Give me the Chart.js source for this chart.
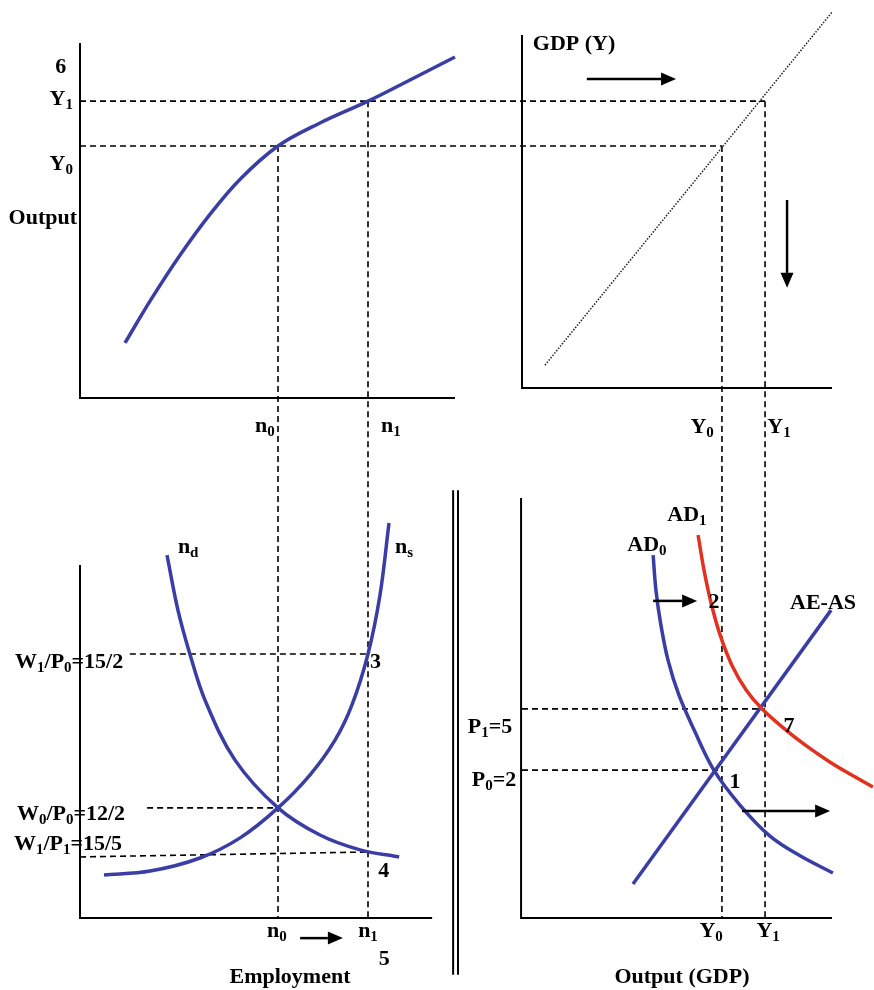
<!DOCTYPE html>
<html lang="en">
<head>
<meta charset="UTF-8">
<title>Labour market, production and AD-AS</title>
<script src="https://cdn.jsdelivr.net/npm/chart.js@4/dist/chart.umd.min.js"></script>
<style>
  body { margin: 0; background: #fff; }
  canvas { display: block; }
</style>
</head>
<body>
<canvas id="diagram" width="874" height="990"></canvas>
<script>
// ---- values (arbitrary diagram units) ----
// production function: employment n -> output Y
const prodN = [1.2, 1.87, 2.67, 3.47, 4.27, 5.28, 6.4, 7.68, 8.8, 10];
const prodY = [1.56, 2.75, 4.05, 5.21, 6.2, 7.14, 7.79, 8.41, 9.01, 9.66];

// 45 degree line (GDP = Y)
const diagX = [0.74, 10];
const diagY = [0.93, 10.93];

// labour demand / supply: employment vs real wage
const ndN = [2.32, 2.61, 2.93, 3.33, 4.13, 5.28, 6.4, 7.47, 8.51];
const ndW = [10.28, 8.73, 7.48, 6.18, 4.48, 3.12, 2.35, 1.93, 1.73];
const nsN = [0.64, 1.87, 3.2, 4.27, 5.28, 6.13, 6.8, 7.25, 7.68, 8.0, 8.24];
const nsW = [1.22, 1.33, 1.70, 2.27, 3.12, 4.05, 5.04, 6.03, 7.48, 9.15, 11.19];

// aggregate demand curves and AE-AS line: output vs price level
const ad0Y = [4.23, 4.32, 4.48, 4.71, 5.06, 5.55, 6.19, 7.03, 8.0, 8.97, 10.03];
const ad0P = [8.64, 7.81, 6.98, 6.14, 5.31, 4.48, 3.52, 2.69, 1.95, 1.48, 1.07];
const ad1Y = [5.68, 5.87, 6.10, 6.39, 6.77, 7.23, 7.74, 8.39, 9.13, 9.94, 10.65, 11.32];
const ad1P = [9.12, 8.29, 7.5, 6.74, 6.02, 5.43, 4.98, 4.55, 4.12, 3.71, 3.40, 3.12];
const asY = [3.58, 9.97];
const asP = [0.81, 7.33];

// equilibrium levels
const employment = [5.28, 7.68];   // n0, n1
const outputV = [7.14, 8.41];      // Y0, Y1 on the vertical GDP axis
const outputH = [6.45, 7.84];      // Y0, Y1 on the horizontal GDP axis
const realWage = [7.48, 3.12];     // W1/P0, W0/P0
const realWageLow = [1.73, 1.87];  // W1/P1 line, at n = 0 and at n1
const priceLevel = [3.52, 4.98];   // P0, P1

// tick labels ("_" marks a subscript)
const employmentTicks = ['n_0', 'n_1'];
const outputTicks = ['Y_0', 'Y_1'];
const wageTicks = ['W_1/P_0=15/2', 'W_0/P_0=12/2', 'W_1/P_1=15/5'];
const priceTicks = ['P_1=5', 'P_0=2'];

// ---- layout ----
const W = 874, H = 990;
// pixel of value 0 and pixels per unit for every scale
const axisLayout = {
    xL: [80, 37.5],   // employment (left panels)
    xR: [522, 31],    // output (right panels)
    yT: [398, 35.3],  // output (top panels)
    yBL: [918, 35.3], // real wage
    yBR: [918, 42]    // price level
};
const BLUE = '#3a3da3';
const RED = '#e3311f';
const FONT = '"Liberation Serif", "Times New Roman", serif';

// panel axes: x scale, y scale, x from, x to, y from, y to
const frames = [
    ['xL', 'yT', 0, 10, 0, 10.06],
    ['xR', 'yT', 0, 10, 0.28, 10.28],
    ['xL', 'yBL', 0, 9.39, 0, 10],
    ['xR', 'yBR', -0.03, 10, 0, 10]
];

// dashed guide lines, each end is [x scale, x, y scale, y]
const guides = [
    [['xL', 0, 'yT', outputV[1]], ['xR', outputH[1], 'yT', outputV[1]]],
    [['xL', 0, 'yT', outputV[0]], ['xR', outputH[0], 'yT', outputV[0]]],
    [['xL', employment[0], 'yT', outputV[0]], ['xL', employment[0], 'yBL', 0]],
    [['xL', employment[1], 'yT', outputV[1]], ['xL', employment[1], 'yBL', 0]],
    [['xR', outputH[0], 'yT', outputV[0]], ['xR', outputH[0], 'yBR', 0]],
    [['xR', outputH[1], 'yT', outputV[1]], ['xR', outputH[1], 'yBR', 0]],
    [['xL', 1.33, 'yBL', realWage[0]], ['xL', employment[1], 'yBL', realWage[0]]],
    [['xL', 1.79, 'yBL', realWage[1]], ['xL', employment[0], 'yBL', realWage[1]]],
    [['xL', 0, 'yBL', realWageLow[0]], ['xL', employment[1], 'yBL', realWageLow[1]]],
    [['xR', 0, 'yBR', priceLevel[1]], ['xR', outputH[1], 'yBR', priceLevel[1]]],
    [['xR', 0, 'yBR', priceLevel[0]], ['xR', outputH[0], 'yBR', priceLevel[0]]]
];

// arrows: x scale, y scale, x1, y1, x2, y2
const arrows = [
    ['xR', 'yT', 2.09, 9.04, 4.97, 9.04],
    ['xR', 'yT', 8.55, 5.61, 8.55, 3.12],
    ['xL', 'yBL', 5.87, -0.57, 7.01, -0.57],
    ['xR', 'yBR', 4.23, 7.55, 5.65, 7.55],
    ['xR', 'yBR', 7.1, 2.55, 9.94, 2.55]
];

// text: text, x scale, x, y scale, baseline y, align
const texts = [
    ['6', 'xL', -0.37, 'yT', 9.21, 'right'],
    [outputTicks[1], 'xL', -0.19, 'yT', 8.30, 'right'],
    [outputTicks[0], 'xL', -0.19, 'yT', 6.46, 'right'],
    ['Output', 'xL', -0.08, 'yT', 4.93, 'right'],
    [employmentTicks[0], 'xL', 4.93, 'yT', -0.96, 'center'],
    [employmentTicks[1], 'xL', 8.29, 'yT', -0.96, 'center'],
    ['GDP (Y)', 'xR', 0.35, 'yT', 9.86, 'left'],
    [outputTicks[0], 'xR', 5.81, 'yT', -0.99, 'center'],
    [outputTicks[1], 'xR', 8.29, 'yT', -0.99, 'center'],
    [wageTicks[0], 'xL', -0.29, 'yBL', 7.08, 'center'],
    [wageTicks[1], 'xL', -0.24, 'yBL', 2.78, 'center'],
    [wageTicks[2], 'xL', -0.32, 'yBL', 1.93, 'center'],
    ['n_d', 'xL', 2.61, 'yBL', 10.34, 'left'],
    ['n_s', 'xL', 8.4, 'yBL', 10.34, 'left'],
    ['3', 'xL', 7.73, 'yBL', 7.08, 'left'],
    ['4', 'xL', 7.95, 'yBL', 1.16, 'left'],
    [employmentTicks[0], 'xL', 5.25, 'yBL', -0.54, 'center'],
    [employmentTicks[1], 'xL', 7.68, 'yBL', -0.54, 'center'],
    ['5', 'xL', 8.11, 'yBL', -1.33, 'center'],
    ['Employment', 'xL', 5.6, 'yBL', -1.84, 'center'],
    [priceTicks[0], 'xR', -1.03, 'yBR', 4.40, 'center'],
    [priceTicks[1], 'xR', -0.9, 'yBR', 3.14, 'center'],
    ['AD_1', 'xR', 5.32, 'yBR', 9.45, 'center'],
    ['AD_0', 'xR', 4.03, 'yBR', 8.74, 'center'],
    ['2', 'xR', 6.19, 'yBR', 7.38, 'center'],
    ['AE-AS', 'xR', 9.71, 'yBR', 7.36, 'center'],
    ['7', 'xR', 8.61, 'yBR', 4.43, 'center'],
    ['1', 'xR', 6.87, 'yBR', 3.10, 'center'],
    [outputTicks[0], 'xR', 6.1, 'yBR', -0.45, 'center'],
    [outputTicks[1], 'xR', 7.94, 'yBR', -0.45, 'center'],
    ['Output (GDP)', 'xR', 5.16, 'yBR', -1.55, 'center']
];

function scaleFor(id) {
    const [origin, unit] = axisLayout[id];
    const isX = id[0] === 'x';
    return {
        type: 'linear',
        axis: isX ? 'x' : 'y',
        position: isX ? 'bottom' : 'left',
        display: false,
        bounds: 'data',
        min: isX ? -origin / unit : -(H - origin) / unit,
        max: isX ? (W - origin) / unit : origin / unit
    };
}

function pts(xs, ys) {
    return xs.map((x, i) => ({ x: x, y: ys[i] }));
}

function curve(xs, ys, xAxis, yAxis, color, extra) {
    return Object.assign({
        data: pts(xs, ys),
        xAxisID: xAxis,
        yAxisID: yAxis,
        showLine: true,
        borderColor: color,
        borderWidth: 3.5,
        pointRadius: 0,
        tension: 0.35,
        clip: false
    }, extra || {});
}

function drawRich(ctx, text, x, y, align) {
    let parts = [], re = /_(.)/g, last = 0, m;
    while ((m = re.exec(text))) {
        if (m.index > last) parts.push({ t: text.slice(last, m.index), sub: false });
        parts.push({ t: m[1], sub: true });
        last = re.lastIndex;
    }
    if (last < text.length) parts.push({ t: text.slice(last), sub: false });
    const font = sub => 'bold ' + (sub ? 15 : 22) + 'px ' + FONT;
    let total = 0;
    parts.forEach(p => { ctx.font = font(p.sub); p.w = ctx.measureText(p.t).width; total += p.w; });
    let cx = align === 'right' ? x - total : align === 'center' ? x - total / 2 : x;
    ctx.textAlign = 'left';
    ctx.textBaseline = 'alphabetic';
    parts.forEach(p => {
        ctx.font = font(p.sub);
        ctx.fillText(p.t, cx, y + (p.sub ? 4 : 0));
        cx += p.w;
    });
}

function drawArrow(ctx, x1, y1, x2, y2) {
    const a = Math.atan2(y2 - y1, x2 - x1), head = 15, half = 6.5;
    const bx = x2 - head * Math.cos(a), by = y2 - head * Math.sin(a);
    ctx.lineWidth = 2.5;
    ctx.setLineDash([]);
    ctx.beginPath();
    ctx.moveTo(x1, y1);
    ctx.lineTo(bx, by);
    ctx.stroke();
    ctx.beginPath();
    ctx.moveTo(x2, y2);
    ctx.lineTo(bx - half * Math.sin(a), by + half * Math.cos(a));
    ctx.lineTo(bx + half * Math.sin(a), by - half * Math.cos(a));
    ctx.closePath();
    ctx.fill();
}

const diagramPlugin = {
    id: 'diagram',
    beforeDatasetsDraw(chart) {
        const ctx = chart.ctx, s = chart.scales;
        const px = (id, v) => s[id].getPixelForValue(v);
        ctx.save();
        ctx.strokeStyle = '#000';
        // dashed guides
        ctx.lineWidth = 1.6;
        ctx.setLineDash([6, 4]);
        guides.forEach(g => {
            ctx.beginPath();
            ctx.moveTo(px(g[0][0], g[0][1]), px(g[0][2], g[0][3]));
            ctx.lineTo(px(g[1][0], g[1][1]), px(g[1][2], g[1][3]));
            ctx.stroke();
        });
        // axes
        ctx.setLineDash([]);
        ctx.lineWidth = 2;
        frames.forEach(f => {
            const x0 = px(f[0], f[2]), x1 = px(f[0], f[3]);
            const y0 = px(f[1], f[4]), y1 = px(f[1], f[5]);
            ctx.beginPath();
            ctx.moveTo(x0, y1);
            ctx.lineTo(x0, y0);
            ctx.lineTo(x1, y0);
            ctx.stroke();
        });
        // double divider between the lower panels
        [9.95, 10.08].forEach(v => {
            ctx.beginPath();
            ctx.moveTo(px('xL', v), px('yBL', 12.12));
            ctx.lineTo(px('xL', v), px('yBL', -1.61));
            ctx.stroke();
        });
        ctx.restore();
    },
    afterDatasetsDraw(chart) {
        const ctx = chart.ctx, s = chart.scales;
        const px = (id, v) => s[id].getPixelForValue(v);
        ctx.save();
        ctx.strokeStyle = '#000';
        ctx.fillStyle = '#000';
        arrows.forEach(a => drawArrow(ctx, px(a[0], a[2]), px(a[1], a[3]), px(a[0], a[4]), px(a[1], a[5])));
        texts.forEach(t => drawRich(ctx, t[0], px(t[1], t[2]), px(t[3], t[4]), t[5]));
        ctx.restore();
    }
};

const scales = {};
Object.keys(axisLayout).forEach(id => { scales[id] = scaleFor(id); });

new Chart(document.getElementById('diagram'), {
    type: 'scatter',
    data: {
        datasets: [
            curve(prodN, prodY, 'xL', 'yT', BLUE),
            curve(diagX, diagY, 'xR', 'yT', '#222', { borderWidth: 1.5, borderDash: [1.5, 1.5], tension: 0 }),
            curve(ndN, ndW, 'xL', 'yBL', BLUE),
            curve(nsN, nsW, 'xL', 'yBL', BLUE),
            curve(ad0Y, ad0P, 'xR', 'yBR', BLUE),
            curve(ad1Y, ad1P, 'xR', 'yBR', RED),
            curve(asY, asP, 'xR', 'yBR', BLUE, { tension: 0 })
        ]
    },
    options: {
        responsive: false,
        animation: false,
        layout: { padding: 0 },
        plugins: { legend: { display: false }, tooltip: { enabled: false }, title: { display: false } },
        scales: scales
    },
    plugins: [diagramPlugin]
});
</script>
</body>
</html>
